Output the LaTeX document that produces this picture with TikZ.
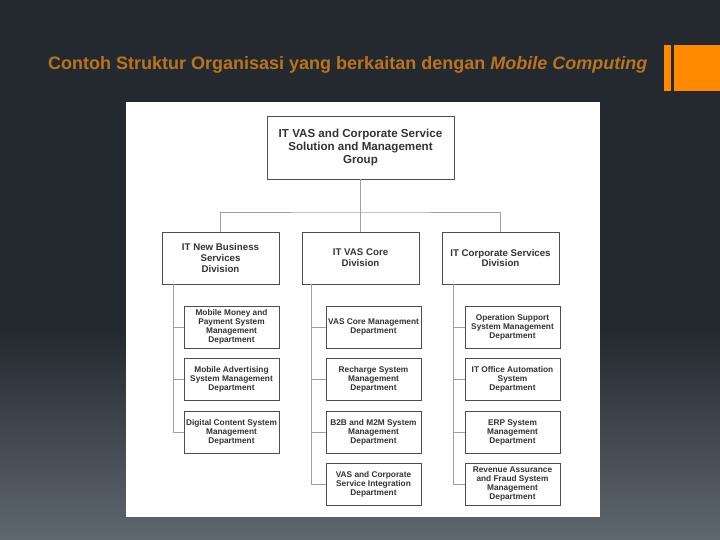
\documentclass[tikz,border=0pt]{standalone}
\usepackage{fontspec}
\setmainfont{Liberation Sans}
\usetikzlibrary{calc}

\definecolor{slidetop}{HTML}{23292F}
\definecolor{slidebot}{HTML}{5F676F}
\definecolor{titleorange}{HTML}{B9741D}
\definecolor{barorange}{HTML}{FF8A00}
\definecolor{boxline}{HTML}{4E4E4E}
\definecolor{linkgray}{HTML}{A0A0A0}
\definecolor{boxtext}{HTML}{333333}

\begin{document}
\begin{tikzpicture}[x=1pt, y=-1pt,
  grpbox/.style={draw=boxline, line width=0.9pt, fill=white, minimum width=187pt, minimum height=63pt, inner sep=1pt, align=center, text=boxtext, font=\fontsize{11.6}{12.7}\selectfont\bfseries},
  divbox/.style={draw=boxline, line width=0.9pt, fill=white, minimum width=117pt, minimum height=52pt, inner sep=1pt, align=center, text=boxtext, font=\fontsize{9.7}{10.7}\selectfont\bfseries},
  deptbox/.style={draw=boxline, line width=0.8pt, fill=white, minimum width=95pt, minimum height=42pt, inner sep=1pt, align=center, text=boxtext, font=\fontsize{8.3}{9}\selectfont\bfseries},
  link/.style={draw=linkgray, line width=0.8pt}]
  \useasboundingbox (0,0) rectangle (720,540);
  % slide background
  \fill[slidetop] (0,0) rectangle (720,540);
  \shade[top color=slidetop, bottom color=slidebot] (0,330) rectangle (720,540);
  \fill[barorange] (664,45) rectangle (671,91);
  \fill[barorange] (674,45) rectangle (720,91);
  \node[anchor=base west, inner sep=0pt, text=titleorange, font=\fontsize{18}{20}\selectfont\bfseries] (title) at (48,70) {Contoh Struktur Organisasi yang berkaitan dengan \textit{Mobile Computing}};
  \fill[white] (126,102) rectangle (600,517);

  % group and divisions
  \node[grpbox] (grp) at (360.5,147.5) {IT VAS and Corporate Service\\Solution and Management\\Group};
  \node[divbox] (divA) at (220.5,258) {IT New Business\\Services\\Division};
  \node[divbox] (divB) at (360.5,258) {IT VAS Core\\Division};
  \node[divbox] (divC) at (500.5,258) {IT Corporate Services\\Division};

  % departments
  \node[deptbox] (a1) at (231.5,327) {Mobile Money and\\Payment System\\Management\\Department};
  \node[deptbox] (a2) at (231.5,379) {Mobile Advertising\\System Management\\Department};
  \node[deptbox] (a3) at (231.5,432) {Digital Content System\\Management\\Department};
  \node[deptbox] (b1) at (373.5,327) {VAS Core Management\\Department};
  \node[deptbox] (b2) at (373.5,379) {Recharge System\\Management\\Department};
  \node[deptbox] (b3) at (373.5,432) {B2B and M2M System\\Management\\Department};
  \node[deptbox] (b4) at (373.5,484) {VAS and Corporate\\Service Integration\\Department};
  \node[deptbox] (c1) at (512.5,327) {Operation Support\\System Management\\Department};
  \node[deptbox] (c2) at (512.5,379) {IT Office Automation\\System\\Department};
  \node[deptbox] (c3) at (512.5,432) {ERP System\\Management\\Department};
  \node[deptbox] (c4) at (512.5,484) {Revenue Assurance\\and Fraud System\\Management\\Department};

  % connectors
  \coordinate (bus) at (360.5,212);
  \coordinate (tA) at ($(divA.south west)+(11.5,0)$);
  \coordinate (tB) at ($(divB.south west)+(10,0)$);
  \coordinate (tC) at ($(divC.south west)+(12,0)$);
  \draw[link] (grp.south) -- (divB.north);
  \draw[link] (divA.north) |- (bus) -| (divC.north);
  \draw[link] (tA) |- (a3.west);
  \draw[link] (a1.west) -- (a1.west -| tA);
  \draw[link] (a2.west) -- (a2.west -| tA);
  \draw[link] (tB) |- (b4.west);
  \draw[link] (b1.west) -- (b1.west -| tB);
  \draw[link] (b2.west) -- (b2.west -| tB);
  \draw[link] (b3.west) -- (b3.west -| tB);
  \draw[link] (tC) |- (c4.west);
  \draw[link] (c1.west) -- (c1.west -| tC);
  \draw[link] (c2.west) -- (c2.west -| tC);
  \draw[link] (c3.west) -- (c3.west -| tC);
\end{tikzpicture}
\end{document}
